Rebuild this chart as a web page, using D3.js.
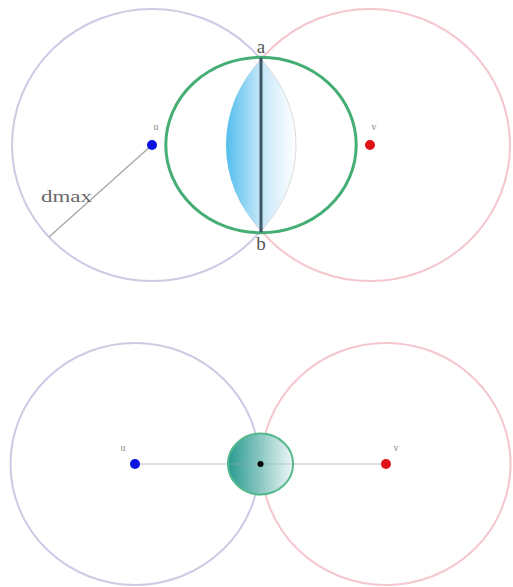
<!DOCTYPE html>
<html>
<head>
<meta charset="utf-8">
<script src="https://cdn.jsdelivr.net/npm/d3@7"></script>
<style>
  html, body { margin: 0; padding: 0; background: #fff; }
  svg { display: block; }
</style>
</head>
<body>
<script>
// Two node configurations, all distances expressed in units of dmax.
const nodeNames = ["u", "v"];
const dmax = 1;
// Upper panel: overlapping ranges, intersection chord a–b
const topCentres = [0, 1.557];
const topRegion = [0.68, 0.645];     // green region radii (x, y)
const lensBulge = 0.25;              // lens half-width either side of the chord
const chordLabels = ["a", "b"];
const dmaxAngle = 137.4;             // direction of the dmax radius, degrees
// Lower panel: ranges just touching at the midpoint
const bottomCentres = [0, 2.0];
const bottomRegion = [0.26, 0.25];

const W = 513, H = 587;
const ringColours = ["#cbcbe3", "#f5c6cd"];
const dotColours = ["#0a14e0", "#e01418"];
const serif = "Liberation Serif, DejaVu Serif, serif";

const svg = d3.select("body").append("svg").attr("width", W).attr("height", H);
const defs = svg.append("defs");

const lensGrad = defs.append("linearGradient").attr("id", "lensGrad")
  .attr("x1", "0%").attr("x2", "100%").attr("y1", "0%").attr("y2", "0%");
lensGrad.append("stop").attr("offset", "0%").attr("stop-color", "#52bdec");
lensGrad.append("stop").attr("offset", "48%").attr("stop-color", "#c2e6f8");
lensGrad.append("stop").attr("offset", "100%").attr("stop-color", "#ffffff");

const dotGrad = defs.append("linearGradient").attr("id", "dotGrad")
  .attr("x1", "0%").attr("x2", "100%").attr("y1", "0%").attr("y2", "0%");
dotGrad.append("stop").attr("offset", "0%").attr("stop-color", "#1c948a");
dotGrad.append("stop").attr("offset", "100%").attr("stop-color", "#eef6f6");

// ---------- Upper panel ----------
const xT = d3.scaleLinear().domain([0, topCentres[1]]).range([152, 370]);
const yT = d3.scaleLinear().domain([-1, 1]).range([9, 281]);
const kxT = xT(1) - xT(0), kyT = yT(1) - yT(0);

const gT = svg.append("g");
gT.selectAll("ellipse.range").data(topCentres).join("ellipse")
  .attr("class", "range")
  .attr("cx", d => xT(d)).attr("cy", yT(0))
  .attr("rx", dmax * kxT).attr("ry", dmax * kyT)
  .attr("fill", "none")
  .attr("stroke", (d, i) => ringColours[i]).attr("stroke-width", 2);

// chord between the two intersection points
const mid = (topCentres[0] + topCentres[1]) / 2;
const halfGap = mid - topCentres[0];
const chordHalf = Math.sqrt(dmax * dmax - halfGap * halfGap);
const ax = xT(mid), ayTop = yT(-chordHalf), ayBot = yT(chordHalf);

// lens: two circular arcs through a and b
const h = (ayBot - ayTop) / 2, s = lensBulge * kxT;
const R = (h * h + s * s) / (2 * s);
const lensPath = `M${ax},${ayTop} A${R},${R} 0 0 0 ${ax},${ayBot} A${R},${R} 0 0 0 ${ax},${ayTop} Z`;
gT.append("path").attr("d", lensPath).attr("fill", "url(#lensGrad)");
gT.append("path")
  .attr("d", `M${ax},${ayBot} A${R},${R} 0 0 0 ${ax},${ayTop}`)
  .attr("fill", "none").attr("stroke", "#dcdcdc").attr("stroke-width", 1);

gT.append("ellipse")
  .attr("cx", xT(mid)).attr("cy", yT(0))
  .attr("rx", topRegion[0] * kxT).attr("ry", topRegion[1] * kyT)
  .attr("fill", "none").attr("stroke", "#45ae74").attr("stroke-width", 3);

gT.append("line")
  .attr("x1", ax).attr("x2", ax).attr("y1", ayTop - 2).attr("y2", ayBot + 2)
  .attr("stroke", "#3d5668").attr("stroke-width", 3);

gT.selectAll("text.chord").data(chordLabels).join("text")
  .attr("class", "chord")
  .attr("x", ax).attr("y", (d, i) => i === 0 ? ayTop - 7 : ayBot + 20)
  .attr("text-anchor", "middle")
  .attr("font-family", serif)
  .attr("font-size", 19).attr("fill", "#555")
  .text(d => d);

// dmax radius
const ang = dmaxAngle * Math.PI / 180;
gT.append("line")
  .attr("x1", xT(0)).attr("y1", yT(0))
  .attr("x2", xT(0) + Math.cos(ang) * dmax * kxT)
  .attr("y2", yT(0) + Math.sin(ang) * dmax * kyT)
  .attr("stroke", "#aaaaaa").attr("stroke-width", 1.5);
gT.append("text")
  .attr("x", 41).attr("y", 202)
  .attr("font-family", serif)
  .attr("font-size", 16).attr("fill", "#6a6a6a")
  .attr("textLength", 51).attr("lengthAdjust", "spacingAndGlyphs")
  .text("dmax");

gT.selectAll("circle.node").data(topCentres).join("circle")
  .attr("class", "node")
  .attr("cx", d => xT(d)).attr("cy", yT(0)).attr("r", 5)
  .attr("fill", (d, i) => dotColours[i]);
gT.selectAll("text.node").data(topCentres).join("text")
  .attr("class", "node")
  .attr("x", d => xT(d) + 4).attr("y", yT(0) - 15)
  .attr("text-anchor", "middle")
  .attr("font-family", serif)
  .attr("font-size", 10).attr("fill", "#888")
  .text((d, i) => nodeNames[i]);

// ---------- Lower panel ----------
const xB = d3.scaleLinear().domain([0, bottomCentres[1]]).range([135, 386]);
const yB = d3.scaleLinear().domain([-1, 1]).range([342, 586]);
const kxB = xB(1) - xB(0), kyB = yB(1) - yB(0);

const gB = svg.append("g");
gB.selectAll("ellipse.range").data(bottomCentres).join("ellipse")
  .attr("class", "range")
  .attr("cx", d => xB(d)).attr("cy", yB(0))
  .attr("rx", dmax * kxB - 1).attr("ry", dmax * kyB - 1)
  .attr("fill", "none")
  .attr("stroke", (d, i) => ringColours[i]).attr("stroke-width", 2);

gB.append("line")
  .attr("x1", xB(bottomCentres[0])).attr("x2", xB(bottomCentres[1]))
  .attr("y1", yB(0)).attr("y2", yB(0))
  .attr("stroke", "#d4d4d4").attr("stroke-width", 1.5);

const midB = (bottomCentres[0] + bottomCentres[1]) / 2;
gB.append("ellipse")
  .attr("cx", xB(midB)).attr("cy", yB(0))
  .attr("rx", bottomRegion[0] * kxB).attr("ry", bottomRegion[1] * kyB)
  .attr("fill", "url(#dotGrad)").attr("fill-opacity", 0.95)
  .attr("stroke", "#56b98c").attr("stroke-width", 2);
gB.append("line")
  .attr("x1", xB(midB) - bottomRegion[0] * kxB).attr("x2", xB(midB) + bottomRegion[0] * kxB)
  .attr("y1", yB(0)).attr("y2", yB(0))
  .attr("stroke", "#9ab0b0").attr("stroke-opacity", 0.5).attr("stroke-width", 1.2);
gB.append("circle")
  .attr("cx", xB(midB)).attr("cy", yB(0)).attr("r", 3).attr("fill", "#000");

gB.selectAll("circle.node").data(bottomCentres).join("circle")
  .attr("class", "node")
  .attr("cx", d => xB(d)).attr("cy", yB(0)).attr("r", 5)
  .attr("fill", (d, i) => dotColours[i]);
gB.selectAll("text.node").data(bottomCentres).join("text")
  .attr("class", "node")
  .attr("x", (d, i) => xB(d) + (i === 0 ? -12 : 10)).attr("y", yB(0) - 13)
  .attr("text-anchor", "middle")
  .attr("font-family", serif)
  .attr("font-size", 10).attr("fill", "#888")
  .text((d, i) => nodeNames[i]);
</script>
</body>
</html>
